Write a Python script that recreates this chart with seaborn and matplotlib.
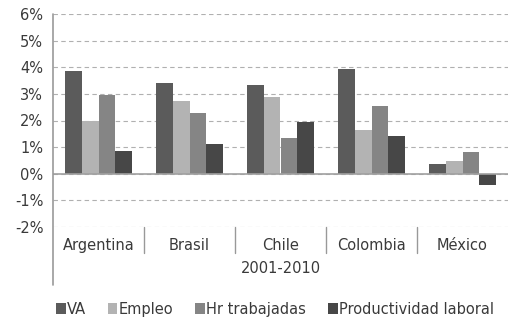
import pandas as pd
import numpy as np
import matplotlib.pyplot as plt
import seaborn as sns
from matplotlib.ticker import FuncFormatter
import matplotlib.transforms as mtransforms

countries = ['Argentina', 'Brasil', 'Chile', 'Colombia', 'México']
series = ['VA', 'Empleo', 'Hr trabajadas', 'Productividad laboral']
va = [3.87, 3.40, 3.32, 3.95, 0.37]
empleo = [2.00, 2.72, 2.87, 1.66, 0.49]
hr_trab = [2.97, 2.27, 1.36, 2.53, 0.82]
productividad = [0.87, 1.10, 1.96, 1.43, -0.42]
period = '2001-2010'

colors = ['#5b5b5b', '#b3b3b3', '#858585', '#474747']

df = pd.DataFrame({'pais': countries, 'VA': va, 'Empleo': empleo,
                   'Hr trabajadas': hr_trab, 'Productividad laboral': productividad})
df_melt = df.melt(id_vars='pais', var_name='serie', value_name='valor')

sns.set_style('white')
plt.rcParams['font.family'] = ['DejaVu Sans']

fig = plt.figure(figsize=(5.11, 3.2), dpi=100)
ax = fig.add_axes([53 / 511, 1 - 227 / 320, 455 / 511, 213 / 320])

sns.barplot(data=df_melt, x='pais', y='valor', hue='serie', hue_order=series,
            palette=colors, width=0.74, ax=ax, saturation=1, legend=True,
            linewidth=0)

ax.set_ylim(-2, 6)
ax.set_xlim(-0.5, 4.5)
ax.set_yticks(np.arange(-2, 7, 1))
ax.yaxis.set_major_formatter(FuncFormatter(lambda v, p: '{}%'.format(int(round(v)))))
ax.grid(axis='y', color='#b0b0b0', linestyle=(0, (4, 3)), linewidth=0.8)
ax.set_axisbelow(True)
ax.axhline(0, color='#a0a0a0', linewidth=1.2, zorder=1)
for s in ['top', 'right', 'bottom', 'left']:
    ax.spines[s].set_visible(False)
ax.plot([0, 0], [1, -0.27], transform=ax.transAxes, color='#999999',
        linewidth=1.2, clip_on=False)

trans = mtransforms.blended_transform_factory(ax.transData, ax.transAxes)
for xd in [0.5, 1.5, 2.5, 3.5]:
    ax.plot([xd, xd], [0, -0.12], transform=trans, color='#999999',
            linewidth=1.0, clip_on=False)

ax.tick_params(axis='y', labelsize=10.5, colors='#3a3a3a', length=0, pad=7)
ax.tick_params(axis='x', labelsize=10.5, colors='#3a3a3a', length=0, pad=8)
ax.set_xlabel(period, fontsize=10.5, color='#3a3a3a', labelpad=6)
ax.set_ylabel('')

h, l = ax.get_legend_handles_labels()
ax.legend(h, l, loc='upper center', bbox_to_anchor=(0.488, -0.29), ncol=4,
          frameon=False, fontsize=10.5, handlelength=0.65, handleheight=0.75,
          handletextpad=0.1, columnspacing=1.5, labelcolor='#3a3a3a')

fig.savefig('out.png', dpi=100)
